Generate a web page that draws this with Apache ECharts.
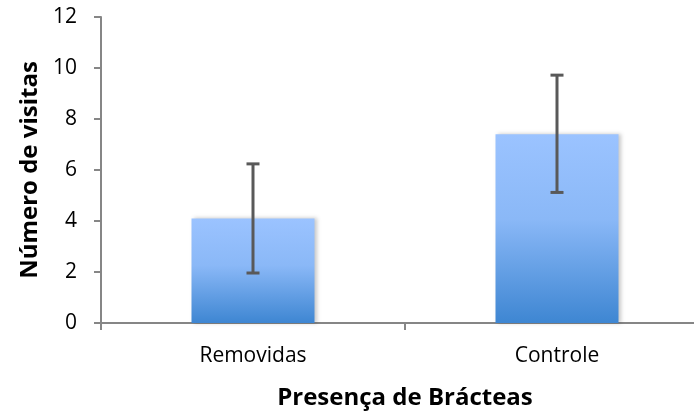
<!DOCTYPE html>
<html>
<head>
<meta charset="utf-8">
<script src="https://cdn.jsdelivr.net/npm/echarts@6/dist/echarts.min.js"></script>
<style>
  html, body { margin: 0; padding: 0; background: #fff; }
  #chart { width: 694px; height: 412px; }
</style>
</head>
<body>
<div id="chart"></div>
<script>
// visitas por tratamento (media com barra de erro)
var categories = ['Removidas', 'Controle']
var means = [4.1, 7.4]
var errLow = [1.96, 5.12]
var errHigh = [6.24, 9.72]
var yTicks = [0, 2, 4, 6, 8, 10, 12]

var chart = echarts.init(document.getElementById('chart'))

var errData = categories.map(function(c, i) {
  return [i, errLow[i], errHigh[i]]
})

var option = {
  animation: false,
  textStyle: { fontFamily: 'Open Sans' },
  grid: {
    left: 101,
    top: 17,
    width: 608,
    height: 306,
    outerBoundsMode: 'none',
    containLabel: false
  },
  xAxis: {
    type: 'category',
    data: categories,
    name: 'Presença de Brácteas',
    nameLocation: 'middle',
    nameGap: 63,
    nameTextStyle: { fontSize: 24, fontWeight: 'bold', color: '#000', fontFamily: 'Open Sans' },
    axisLine: { lineStyle: { color: '#868686', width: 2 } },
    axisTick: { show: true, length: 7, lineStyle: { color: '#868686', width: 2 } },
    axisLabel: { fontSize: 21, color: '#000', margin: 23, fontFamily: 'Open Sans' }
  },
  yAxis: {
    type: 'value',
    min: yTicks[0],
    max: yTicks[yTicks.length - 1],
    interval: 2,
    name: 'Número de visitas',
    nameLocation: 'middle',
    nameGap: 56,
    nameTextStyle: { fontSize: 24, fontWeight: 'bold', color: '#000', fontFamily: 'Open Sans' },
    axisLine: { show: true, lineStyle: { color: '#868686', width: 2 } },
    axisTick: { show: true, length: 7, lineStyle: { color: '#868686', width: 2 } },
    axisLabel: { fontSize: 21, color: '#000', margin: 24, fontFamily: 'Open Sans' },
    splitLine: { show: false }
  },
  series: [
    {
      type: 'bar',
      data: means,
      barWidth: 123,
      itemStyle: {
        color: new echarts.graphic.LinearGradient(0, 0, 0, 1, [
          { offset: 0, color: '#9bc3ff' },
          { offset: 0.45, color: '#8ab8f7' },
          { offset: 1, color: '#3e86d2' }
        ]),
        shadowColor: 'rgba(0,0,0,0.22)',
        shadowBlur: 4,
        shadowOffsetX: 2
      }
    },
    {
      type: 'custom',
      data: errData,
      z: 10,
      renderItem: function(params, api) {
        var x = api.value(0)
        var lo = api.coord([x, api.value(1)])
        var hi = api.coord([x, api.value(2)])
        var half = 6.5
        var style = { stroke: '#595959', lineWidth: 3 }
        return {
          type: 'group',
          children: [
            { type: 'line', shape: { x1: lo[0], y1: lo[1], x2: hi[0], y2: hi[1] }, style: style },
            { type: 'line', shape: { x1: lo[0] - half, y1: lo[1], x2: lo[0] + half, y2: lo[1] }, style: style },
            { type: 'line', shape: { x1: hi[0] - half, y1: hi[1], x2: hi[0] + half, y2: hi[1] }, style: style }
          ]
        }
      }
    }
  ]
}
chart.setOption(option)
</script>
</body>
</html>
